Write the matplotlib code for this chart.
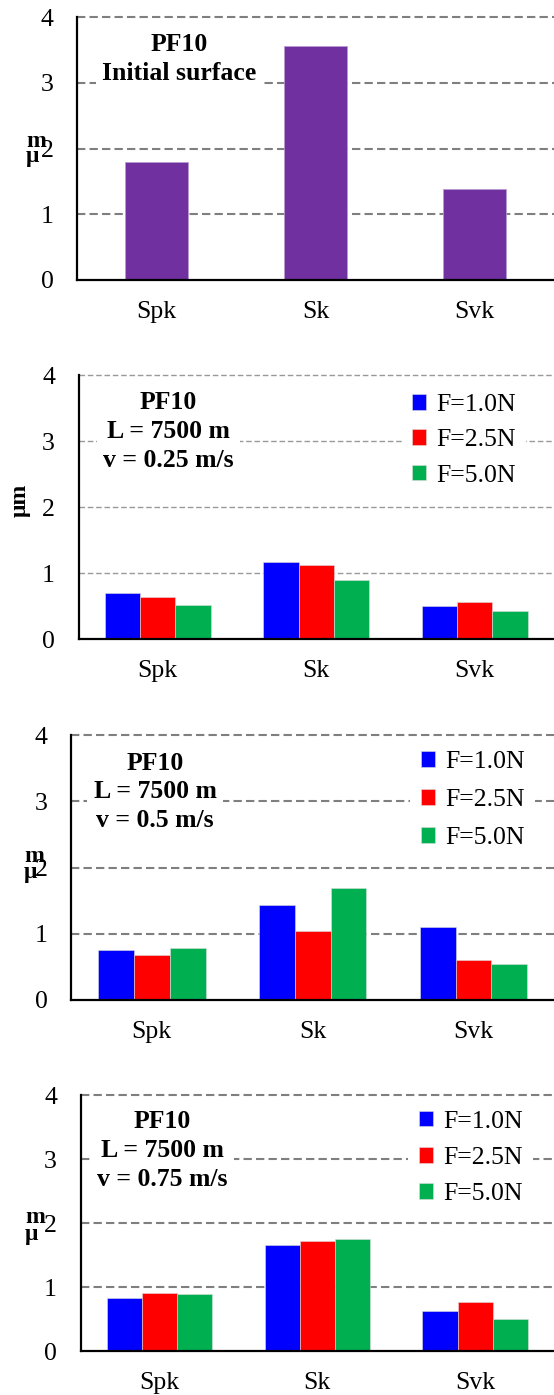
import numpy as np
import matplotlib
matplotlib.use("Agg")
import matplotlib.pyplot as plt

plt.rcParams['font.family'] = ['Liberation Serif', 'DejaVu Serif']

# 資料
categories = ['Spk', 'Sk', 'Svk']
initial = [1.79, 3.57, 1.38]

loads = ['F=1.0N', 'F=2.5N', 'F=5.0N']
colors = ['#0000FF', '#FF0000', '#00B050']

v025 = [[0.70, 1.17, 0.50],
        [0.64, 1.12, 0.56],
        [0.52, 0.90, 0.43]]
v05 = [[0.755, 1.43, 1.10],
       [0.68, 1.04, 0.61],
       [0.785, 1.69, 0.55]]
v075 = [[0.83, 1.65, 0.63],
        [0.91, 1.72, 0.76],
        [0.89, 1.745, 0.50]]

W, H = 554, 1395
fig = plt.figure(figsize=(W / 100, H / 100), dpi=100)


def make_ax(left, top, bottom):
    # 以像素位置建立座標軸
    ax = fig.add_axes([left / W, 1 - bottom / H, 1 - left / W, (bottom - top) / H])
    ax.set_ylim(0, 4)
    ax.set_xlim(-0.5, 2.5)
    ax.set_yticks([0, 1, 2, 3, 4])
    ax.set_xticks(range(3))
    ax.set_xticklabels(categories)
    for y in [1, 2, 3, 4]:
        ax.axhline(y, color='#7f7f7f', lw=1.5, dashes=(4, 2), zorder=0, clip_on=False)
    for s in ['top', 'right']:
        ax.spines[s].set_visible(False)
    for s in ['left', 'bottom']:
        ax.spines[s].set_linewidth(1.6)
    ax.tick_params(length=0, labelsize=18.5)
    ax.tick_params(axis='y', pad=17)
    ax.tick_params(axis='x', pad=15)
    return ax


def label_box(ax, x, y, s):
    ax.text(x, y, s, ha='center', va='center', fontsize=18.5, fontweight='bold',
            linespacing=1.33, zorder=5,
            bbox=dict(boxstyle='square,pad=0.25', fc='white', ec='none'))


def stacked_unit(x, ym, yu):
    fig.text(x / W, 1 - ym / H, 'm', fontsize=17, fontweight='bold', va='baseline', ha='left')
    fig.text(x / W, 1 - yu / H, 'μ', fontsize=17, fontweight='bold', va='baseline', ha='left')


def grouped(ax, data, lx, ly, spacing):
    x = np.arange(len(categories))
    w = 0.223
    for i, (vals, c, lab) in enumerate(zip(data, colors, loads)):
        ax.bar(x + (i - 1) * w, vals, w, color=c, edgecolor='#dddddd', linewidth=0.4,
               label=lab, zorder=2)
    ax.legend(loc='upper left', bbox_to_anchor=(lx, ly), bbox_transform=ax.transData,
              fontsize=18.5, frameon=True, facecolor='white', edgecolor='none', framealpha=1,
              fancybox=False, borderaxespad=0, borderpad=0.4, handlelength=0.55,
              handleheight=0.55, handletextpad=0.4, labelspacing=spacing)


# 第一張：初始表面
ax1 = make_ax(77, 17.3, 280)
ax1.bar(range(3), initial, 0.4, color='#7030A0', edgecolor='#b79bd0', linewidth=0.6, zorder=2)
label_box(ax1, 0.143, 3.37, 'PF10\nInitial surface')
stacked_unit(26, 147, 162)

# 第二張：v = 0.25 m/s
ax2 = make_ax(78.5, 375, 639.3)
for y in [1, 2, 3, 4]:
    ax2.lines[y - 1].set_linewidth(1.0)
    ax2.lines[y - 1].set_color('#999999')
grouped(ax2, v025, 1.539, 3.87, 0.52)
label_box(ax2, 0.069, 3.14, 'PF10\nL = 7500 m\nv = 0.25 m/s')
ax2.set_ylabel('μm', fontsize=17, fontweight='bold', va='center')
ax2.yaxis.set_label_coords(-0.123, 0.527)

# 第三張：v = 0.5 m/s
ax3 = make_ax(71.3, 735, 1000)
grouped(ax3, v05, 1.608, 3.91, 0.62)
label_box(ax3, 0.02, 3.14, 'PF10\nL = 7500 m\nv = 0.5 m/s')
stacked_unit(24, 862, 878)

# 第四張：v = 0.75 m/s
ax4 = make_ax(80.6, 1095, 1351)
grouped(ax4, v075, 1.577, 3.915, 0.55)
label_box(ax4, 0.02, 3.13, 'PF10\nL = 7500 m\nv = 0.75 m/s')
stacked_unit(25, 1223, 1240)

fig.savefig('out.png', dpi=100)
